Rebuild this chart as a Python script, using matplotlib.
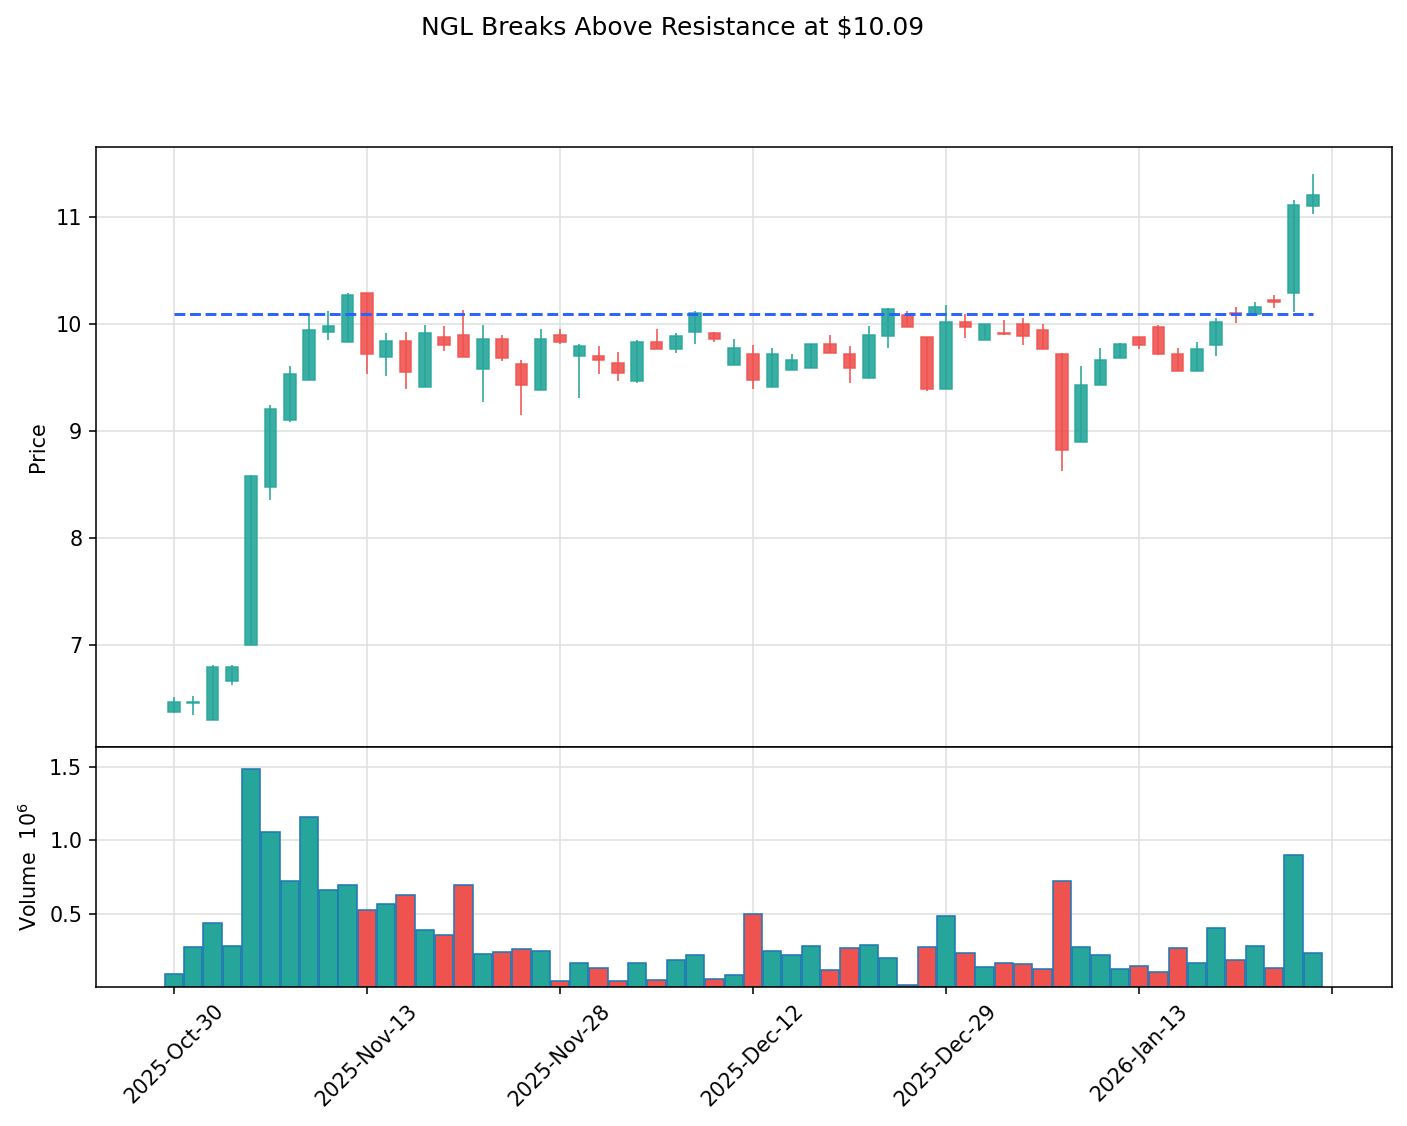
import numpy as np
import pandas as pd
import matplotlib
matplotlib.use("Agg")
import matplotlib.pyplot as plt

# trading sessions (US market holidays removed)
holidays = ["2025-11-27", "2025-12-25", "2026-01-01", "2026-01-19"]
dates = [d for d in pd.bdate_range("2025-10-30", "2026-01-27") if d.strftime("%Y-%m-%d") not in holidays]

opens = [6.37, 6.46, 6.30, 6.66, 7.00, 8.48, 9.10, 9.48, 9.93, 9.83,
         10.29, 9.69, 9.84, 9.41, 9.88, 9.90, 9.58, 9.86, 9.63, 9.38,
         9.90, 9.70, 9.70, 9.64, 9.47, 9.83, 9.77, 9.93, 9.92, 9.62,
         9.72, 9.41, 9.57, 9.59, 9.81, 9.72, 9.50, 9.89, 10.08, 9.88,
         9.39, 10.02, 9.85, 9.915, 10.00, 9.94, 9.72, 8.90, 9.43, 9.68,
         9.88, 9.97, 9.72, 9.56, 9.80, 10.103, 10.09, 10.221, 10.29, 11.10]
closes = [6.47, 6.47, 6.79, 6.79, 8.58, 9.21, 9.53, 9.94, 9.985, 10.27,
          9.72, 9.84, 9.55, 9.92, 9.80, 9.69, 9.86, 9.68, 9.43, 9.86,
          9.83, 9.79, 9.66, 9.54, 9.83, 9.77, 9.89, 10.10, 9.86, 9.78,
          9.48, 9.72, 9.66, 9.81, 9.73, 9.59, 9.90, 10.14, 9.97, 9.39,
          10.02, 9.97, 10.00, 9.905, 9.89, 9.77, 8.82, 9.43, 9.66, 9.81,
          9.80, 9.72, 9.56, 9.77, 10.02, 10.095, 10.16, 10.21, 11.11, 11.21]
highs = [6.51, 6.52, 6.81, 6.81, 8.59, 9.24, 9.61, 10.09, 10.12, 10.29,
         10.29, 9.92, 9.93, 9.99, 9.98, 10.13, 9.99, 9.90, 9.66, 9.95,
         9.95, 9.81, 9.79, 9.74, 9.85, 9.95, 9.92, 10.12, 9.93, 9.86,
         9.80, 9.78, 9.72, 9.81, 9.90, 9.79, 9.98, 10.15, 10.12, 9.88,
         10.18, 10.09, 10.00, 10.04, 10.06, 10.00, 9.73, 9.61, 9.78, 9.82,
         9.88, 9.99, 9.78, 9.83, 10.06, 10.16, 10.21, 10.27, 11.16, 11.40]
lows = [6.36, 6.35, 6.30, 6.63, 7.00, 8.36, 9.08, 9.48, 9.85, 9.83,
        9.53, 9.51, 9.39, 9.41, 9.75, 9.69, 9.27, 9.65, 9.15, 9.38,
        9.81, 9.31, 9.53, 9.47, 9.45, 9.77, 9.73, 9.81, 9.83, 9.62,
        9.39, 9.41, 9.57, 9.59, 9.73, 9.45, 9.50, 9.78, 9.97, 9.37,
        9.39, 9.87, 9.85, 9.90, 9.80, 9.77, 8.63, 8.90, 9.43, 9.68,
        9.77, 9.71, 9.56, 9.56, 9.70, 10.01, 10.09, 10.15, 10.11, 11.03]
volumes = [0.086, 0.273, 0.436, 0.280, 1.484, 1.057, 0.720, 1.159, 0.659, 0.693,
           0.523, 0.566, 0.627, 0.386, 0.355, 0.693, 0.225, 0.239, 0.257, 0.245,
           0.041, 0.164, 0.127, 0.039, 0.164, 0.048, 0.184, 0.216, 0.052, 0.080,
           0.498, 0.245, 0.216, 0.277, 0.114, 0.264, 0.284, 0.195, 0.014, 0.270,
           0.482, 0.230, 0.134, 0.161, 0.155, 0.120, 0.720, 0.270, 0.216, 0.120,
           0.141, 0.100, 0.264, 0.161, 0.400, 0.182, 0.277, 0.127, 0.898, 0.230]
resistance = 10.09

up_color = "#26a69a"
down_color = "#ef5350"

opens = np.array(opens)
closes = np.array(closes)
highs = np.array(highs)
lows = np.array(lows)
volumes = np.array(volumes)
x = np.arange(len(opens))
colors = [up_color if c >= o else down_color for o, c in zip(opens, closes)]

plt.rcParams["font.size"] = 10.6

fig = plt.figure(figsize=(10, 1126 / 140.7), dpi=140.7)
ax = fig.add_axes([0.0682, 0.3366, 0.9211, 0.5328])
axv = fig.add_axes([0.0682, 0.1234, 0.9211, 0.2132], sharex=ax)

for a in (ax, axv):
    a.grid(True, color="#e0e0e0", linewidth=0.8)
    a.set_axisbelow(True)

# candles
ax.vlines(x, lows, highs, colors=colors, linewidth=0.9, alpha=0.9)
body = np.abs(closes - opens)
body = np.where(body < 0.01, 0.01, body)
ax.bar(x, body, bottom=np.minimum(opens, closes), width=0.6, color=colors,
       edgecolor=colors, linewidth=0.8, alpha=0.9)
ax.hlines(resistance, x[0], x[-1], colors="#2962ff", linestyles="--", linewidth=1.5)
ax.set_ylim(6.047, 11.654)
ax.set_yticks([7, 8, 9, 10, 11])
ax.set_yticklabels(["7", "8", "9", "10", "11"])
ax.set_ylabel("Price")
ax.tick_params(axis="x", labelbottom=False, length=0)

# volume
axv.bar(x, volumes, width=0.95, color=colors, edgecolor="#1f77b4", linewidth=0.8)
axv.set_ylim(0, 1.636)
axv.set_yticks([0.5, 1.0, 1.5])
axv.set_ylabel("Volume  $10^6$")

ticks = list(range(0, len(x) + 1, 10))
labels = [dates[i].strftime("%Y-%b-%d") if i < len(dates) else "" for i in ticks]
axv.set_xticks(ticks)
axv.set_xticklabels(labels, rotation=45, ha="center")
axv.set_xlim(-4.04, 63.1)

fig.suptitle("NGL Breaks Above Resistance at $10.09", x=0.478, y=0.986, fontsize=12.8)

fig.savefig("out.png", dpi=140.7)
